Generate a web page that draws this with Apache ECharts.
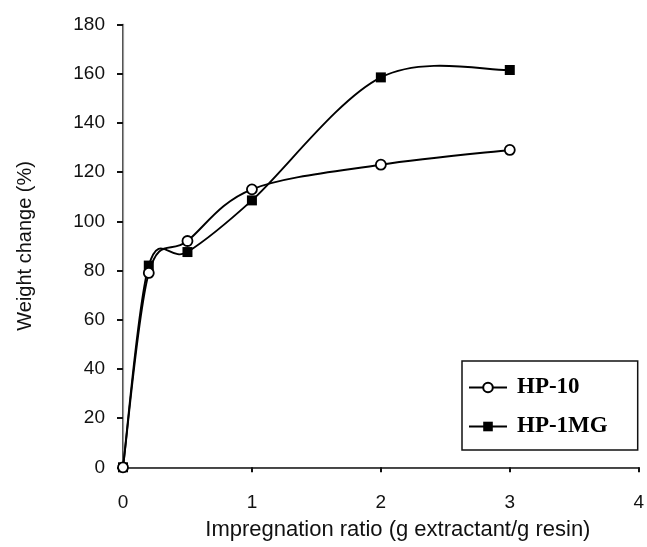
<!DOCTYPE html>
<html>
<head>
<meta charset="utf-8">
<script src="https://cdn.jsdelivr.net/npm/echarts@6/dist/echarts.min.js"></script>
<style>html,body{margin:0;padding:0;background:#fff;}#c{width:647px;height:547px;}</style>
</head>
<body>
<div id="c"></div>
<script>
var ratios = [0, 0.2, 0.5, 1, 2, 3];
var hp10 = [0, 79, 92, 113, 123, 129];
var hp1mg = [0, 82, 87.5, 108.5, 158.5, 161.5];
var seriesNames = ['HP-10', 'HP-1MG'];
var xTitle = 'Impregnation ratio (g extractant/g resin)';
var yTitle = 'Weight change (%)';

function pairs(xs, ys) { return xs.map(function (x, i) { return [x, ys[i]]; }); }

// Smoothed curve (Catmull-Rom style, like spreadsheet smoothing) built from data via the axes' scale
function curveRenderer(xs, ys) {
  return function (params, api) {
    if (params.dataIndex !== 0) return null;
    var p = xs.map(function (x, i) { return api.coord([x, ys[i]]); });
    var n = p.length;
    var d = 'M' + p[0][0] + ' ' + p[0][1];
    for (var i = 0; i < n - 1; i++) {
      var p0 = p[i - 1] || p[i], p1 = p[i], p2 = p[i + 1], p3 = p[i + 2] || p[i + 1];
      var c1x = p1[0] + (p2[0] - p0[0]) / 6, c1y = p1[1] + (p2[1] - p0[1]) / 6;
      var c2x = p2[0] - (p3[0] - p1[0]) / 6, c2y = p2[1] - (p3[1] - p1[1]) / 6;
      d += ' C' + c1x + ' ' + c1y + ' ' + c2x + ' ' + c2y + ' ' + p2[0] + ' ' + p2[1];
    }
    return { type: 'path', shape: { pathData: d }, style: { stroke: '#000', lineWidth: 1.9, fill: 'none' } };
  };
}

var chart = echarts.init(document.getElementById('c'));
var font = 'Liberation Sans, Arial, sans-serif';
var legendLine = { color: '#000', width: 2, opacity: 1 };
chart.setOption({
  animation: false,
  backgroundColor: '#fff',
  grid: { left: 123, right: 5, top: 24.5, bottom: 79.7, containLabel: false },
  legend: {
    orient: 'vertical',
    left: 462, top: 361, width: 169, height: 83,
    padding: [15, 30, 12, 6],
    borderColor: '#111', borderWidth: 1.5,
    itemWidth: 38, itemHeight: 12, itemGap: 16,
    textStyle: { fontFamily: 'Liberation Serif, Times New Roman, serif', fontWeight: 'bold', fontSize: 23, color: '#000', padding: [0, 0, 0, 5] },
    data: [
      { name: seriesNames[0], lineStyle: legendLine },
      { name: seriesNames[1], lineStyle: legendLine }
    ]
  },
  xAxis: [{
    type: 'value', min: 0, max: 4, interval: 1,
    name: xTitle, nameLocation: 'middle', nameGap: 52,
    nameTextStyle: { fontFamily: font, fontSize: 22, color: '#111', padding: [0, 0, 0, 34] },
    axisLine: { show: true, onZero: false, lineStyle: { color: '#111', width: 1.5 } },
    axisTick: { show: true, inside: false, length: 5, lineStyle: { color: '#111', width: 2 } },
    axisLabel: { margin: 26, fontFamily: font, fontSize: 19, color: '#111' },
    splitLine: { show: false }
  }, {
    type: 'value', min: 0, max: 4, position: 'top',
    axisLine: { show: true, lineStyle: { color: '#444', width: 1.2 } },
    axisTick: { show: false }, axisLabel: { show: false }, splitLine: { show: false }
  }],
  yAxis: [{
    type: 'value', min: 0, max: 180, interval: 20,
    name: yTitle, nameLocation: 'middle', nameGap: 88, nameRotate: 90,
    nameTextStyle: { fontFamily: font, fontSize: 20, color: '#111' },
    axisLine: { show: true, onZero: false, lineStyle: { color: '#111', width: 1.5 } },
    axisTick: { show: true, inside: false, length: 6, lineStyle: { color: '#111', width: 2 } },
    axisLabel: { margin: 18, fontFamily: font, fontSize: 19, color: '#111' },
    splitLine: { show: false }
  }, {
    type: 'value', min: 0, max: 180, position: 'right',
    axisLine: { show: true, lineStyle: { color: '#999', width: 1.2 } },
    axisTick: { show: false }, axisLabel: { show: false }, splitLine: { show: false }
  }],
  series: [{
    name: seriesNames[0] + ' curve', type: 'custom',
    data: pairs(ratios, hp10), renderItem: curveRenderer(ratios, hp10),
    encode: { x: 0, y: 1 }, z: 1, silent: true
  }, {
    name: seriesNames[1] + ' curve', type: 'custom',
    data: pairs(ratios, hp1mg), renderItem: curveRenderer(ratios, hp1mg),
    encode: { x: 0, y: 1 }, z: 1, silent: true
  }, {
    name: seriesNames[0], type: 'line',
    data: pairs(ratios, hp10),
    symbol: 'circle', symbolSize: 10,
    lineStyle: { color: '#000', width: 2, opacity: 0 },
    itemStyle: { color: '#fff', borderColor: '#000', borderWidth: 1.8 },
    z: 4
  }, {
    name: seriesNames[1], type: 'line',
    data: pairs(ratios, hp1mg),
    symbol: 'rect', symbolSize: 10,
    lineStyle: { color: '#000', width: 2, opacity: 0 },
    itemStyle: { color: '#000', borderColor: '#000', borderWidth: 0 },
    z: 3
  }]
});
</script>
</body>
</html>
